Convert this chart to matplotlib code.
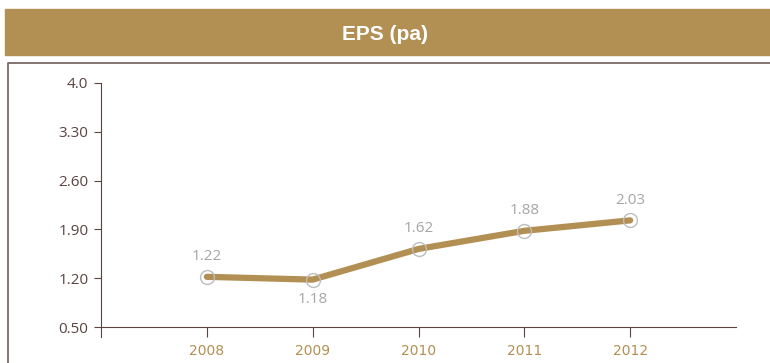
import matplotlib.pyplot as plt
from matplotlib.patches import Rectangle
from matplotlib.lines import Line2D

# EPS per year
years = [2008, 2009, 2010, 2011, 2012]
eps = [1.22, 1.18, 1.62, 1.88, 2.03]
label_above = [True, False, True, True, True]
yticks = [0.50, 1.20, 1.90, 2.60, 3.30, 4.0]
ytick_labels = ["0.50", "1.20", "1.90", "2.60", "3.30", "4.0"]

gold = "#b28f52"
brown = "#5a4440"
grey = "#a6a6a6"

fig = plt.figure(figsize=(7.7, 3.63), dpi=100)

# title banner and frame
fig.patches.append(Rectangle((5 / 770, 1 - 55 / 363), 765 / 770, 46 / 363,
                             transform=fig.transFigure, color=gold, zorder=0))
fig.text(385 / 770, 1 - 34 / 363, "EPS (pa)", color="white", fontsize=15,
         fontweight="bold", ha="center", va="center", family="Liberation Sans")
fig.lines.append(Line2D([8 / 770, 8 / 770, 1], [0, 1 - 63 / 363, 1 - 63 / 363],
                        transform=fig.transFigure, color="#7a6a66", lw=1.3))

ax = fig.add_axes([101 / 770, 1 - 337 / 363, 635 / 770, 254 / 363])
ax.plot(years, eps, color=gold, lw=4.5, solid_capstyle="round", zorder=2)
ax.plot(years, eps, ls="none", marker="o", ms=10, mfc="none", mec="#bdbdbd",
        mew=1, zorder=3)

for x, y, up in zip(years, eps, label_above):
    ax.annotate(f"{y:.2f}", (x, y), xytext=(0, 9 if up else -9),
                textcoords="offset points", ha="center",
                va="bottom" if up else "top", color=grey, fontsize=11,
                family="Open Sans")

ax.set_xlim(2007, 2013)
ax.set_ylim(0.357, 4.0)
ax.set_xticks(years)
ax.set_xticklabels([str(y) for y in years], fontsize=10.5,
                   fontweight="bold", family="Open Sans")
ax.set_yticks(yticks)
ax.set_yticklabels(ytick_labels, fontsize=11, family="Open Sans")

for s in ["top", "right"]:
    ax.spines[s].set_visible(False)
ax.spines["bottom"].set_position(("data", 0.5))
ax.spines["bottom"].set_color(brown)
ax.spines["left"].set_color(brown)
ax.tick_params(axis="x", length=7, color=brown, labelcolor=gold, pad=5)
ax.tick_params(axis="y", length=5, color=brown, labelcolor=brown, pad=4)

fig.savefig("out.png", dpi=100)
